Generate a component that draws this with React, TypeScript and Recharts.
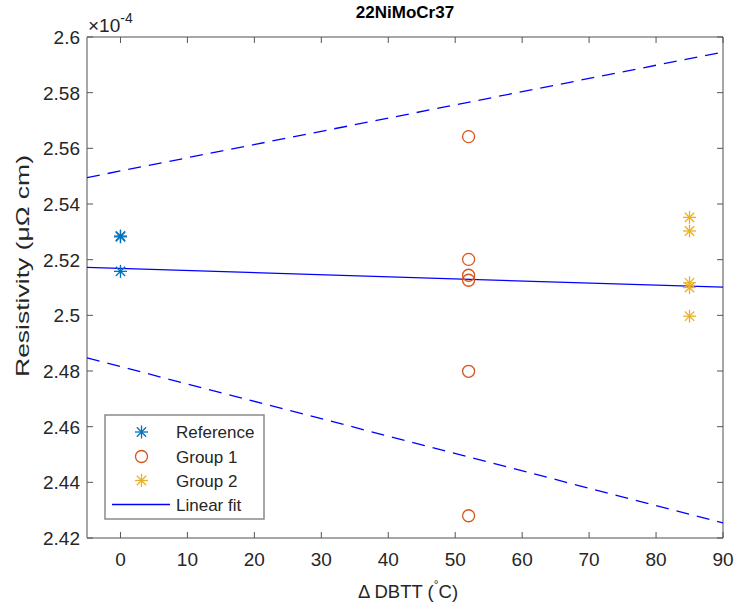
import React from 'react';
import { ComposedChart, Scatter, XAxis, YAxis } from 'recharts';

// ---- data (resistivity in units of 1e-4 µΩ cm) ----
const refDbtt = [0, 0, 0];
const refRes = [2.5285, 2.5282, 2.5158];
const group1Dbtt = [52, 52, 52, 52, 52, 52];
const group1Res = [2.5642, 2.5201, 2.5144, 2.5126, 2.4799, 2.428];
const group2Dbtt = [85, 85, 85, 85, 85];
const group2Res = [2.5352, 2.5303, 2.5117, 2.51, 2.4997];
const fitDbtt = [-5, 90];
const fitRes = [2.5172, 2.5101];
const upperRes = [2.5495, 2.5946];
const lowerRes = [2.4847, 2.4254];

const xTicks = [0, 10, 20, 30, 40, 50, 60, 70, 80, 90];
const yTicks = [2.42, 2.44, 2.46, 2.48, 2.5, 2.52, 2.54, 2.56, 2.58, 2.6];
const legendLabels = ['Reference', 'Group 1', 'Group 2', 'Linear fit'];
const titleText = '22NiMoCr37';

const zip = (xs: number[], ys: number[]) => xs.map((x, i) => ({ x, y: ys[i] }));
const refData = zip(refDbtt, refRes);
const g1Data = zip(group1Dbtt, group1Res);
const g2Data = zip(group2Dbtt, group2Res);
const fitData = zip(fitDbtt, fitRes);
const upperData = zip(fitDbtt, upperRes);
const lowerData = zip(fitDbtt, lowerRes);

const FONT = "'Liberation Sans', Arial, Helvetica, sans-serif";
const TXT = '#262626';
const AX = '#8a8a8a';
const TICK = '#555555';
const C_REF = '#0072BD';
const C_G1 = '#D95319';
const C_G2 = '#EDB120';
const C_FIT = '#0000FF';

const W = 737;
const H = 612;
const M = { top: 36, right: 13, bottom: 73, left: 86 };

const starPath = (cx: number, cy: number, r: number) => {
  const d = r * 0.72;
  return (
    <>
      <line x1={cx - r} y1={cy} x2={cx + r} y2={cy} />
      <line x1={cx} y1={cy - r} x2={cx} y2={cy + r} />
      <line x1={cx - d} y1={cy - d} x2={cx + d} y2={cy + d} />
      <line x1={cx - d} y1={cy + d} x2={cx + d} y2={cy - d} />
    </>
  );
};

const makeStar = (color: string) => (props: any) => {
  const { cx, cy } = props;
  if (cx == null || cy == null) return <g />;
  return (
    <g stroke={color} strokeWidth={1.3} fill="none">
      {starPath(cx, cy, 6.5)}
    </g>
  );
};

const Circle = (props: any) => {
  const { cx, cy } = props;
  if (cx == null || cy == null) return <g />;
  return <circle cx={cx} cy={cy} r={6} fill="none" stroke={C_G1} strokeWidth={1.3} />;
};

const Empty = () => <g />;

const fmt = (v: number) => String(+Number(v).toFixed(2));

const BottomTick = (props: any) => {
  const { x, y, payload } = props;
  return (
    <g>
      <line x1={x} y1={y} x2={x} y2={y - 6} stroke={TICK} strokeWidth={1} />
      <text x={x} y={y + 28} textAnchor="middle" fill={TXT} fontSize={19} fontFamily={FONT}>
        {fmt(payload.value)}
      </text>
    </g>
  );
};

const TopTick = (props: any) => {
  const { x, y } = props;
  return <line x1={x} y1={y} x2={x} y2={y + 6} stroke={TICK} strokeWidth={1} />;
};

const LeftTick = (props: any) => {
  const { x, y, payload } = props;
  return (
    <g>
      <line x1={x} y1={y} x2={x + 6} y2={y} stroke={TICK} strokeWidth={1} />
      <text x={x - 7} y={y} dy="0.36em" textAnchor="end" fill={TXT} fontSize={19} fontFamily={FONT}>
        {fmt(payload.value)}
      </text>
    </g>
  );
};

const RightTick = (props: any) => {
  const { x, y } = props;
  return <line x1={x} y1={y} x2={x - 6} y2={y} stroke={TICK} strokeWidth={1} />;
};

export default function App() {
  const plotL = 87;
  const plotR = 723;
  const cxPlot = (plotL + plotR) / 2;
  const yLabelCy = 266;

  const legendRows = [432, 456.5, 480.5, 504.5];

  return (
    <div style={{ position: 'absolute', left: 0, top: 0, width: W, height: H, background: '#fff' }}>
      <ComposedChart width={W} height={H} margin={M}>
        <XAxis
          xAxisId="b"
          dataKey="x"
          type="number"
          domain={[-5, 90]}
          ticks={xTicks}
          allowDataOverflow
          height={1}
          tickSize={0}
          tickMargin={0}
          tickLine={false}
          tick={<BottomTick />}
          axisLine={{ stroke: AX, strokeWidth: 1.5 }}
          interval={0}
        />
        <XAxis
          xAxisId="t"
          orientation="top"
          dataKey="x"
          type="number"
          domain={[-5, 90]}
          ticks={xTicks}
          allowDataOverflow
          height={1}
          tickSize={0}
          tickMargin={0}
          tickLine={false}
          tick={<TopTick />}
          axisLine={{ stroke: AX, strokeWidth: 1.5 }}
          interval={0}
        />
        <YAxis
          yAxisId="l"
          dataKey="y"
          type="number"
          domain={[2.42, 2.6]}
          ticks={yTicks}
          allowDataOverflow
          width={1}
          tickSize={0}
          tickMargin={0}
          tickLine={false}
          tick={<LeftTick />}
          axisLine={{ stroke: AX, strokeWidth: 1.5 }}
          interval={0}
        />
        <YAxis
          yAxisId="r"
          orientation="right"
          dataKey="y"
          type="number"
          domain={[2.42, 2.6]}
          ticks={yTicks}
          allowDataOverflow
          width={1}
          tickSize={0}
          tickMargin={0}
          tickLine={false}
          tick={<RightTick />}
          axisLine={{ stroke: AX, strokeWidth: 1.5 }}
          interval={0}
        />
        <Scatter
          xAxisId="b"
          yAxisId="l"
          name="upper"
          data={upperData}
          shape={Empty}
          line={{ stroke: C_FIT, strokeWidth: 1.3, strokeDasharray: '13 8' }}
          isAnimationActive={false}
        />
        <Scatter
          xAxisId="b"
          yAxisId="l"
          name="lower"
          data={lowerData}
          shape={Empty}
          line={{ stroke: C_FIT, strokeWidth: 1.3, strokeDasharray: '13 8' }}
          isAnimationActive={false}
        />
        <Scatter
          xAxisId="b"
          yAxisId="l"
          name="Linear fit"
          data={fitData}
          shape={Empty}
          line={{ stroke: C_FIT, strokeWidth: 1.3 }}
          isAnimationActive={false}
        />
        <Scatter xAxisId="b" yAxisId="l" name="Reference" data={refData} shape={makeStar(C_REF)} isAnimationActive={false} />
        <Scatter xAxisId="b" yAxisId="l" name="Group 1" data={g1Data} shape={Circle} isAnimationActive={false} />
        <Scatter xAxisId="b" yAxisId="l" name="Group 2" data={g2Data} shape={makeStar(C_G2)} isAnimationActive={false} />
      </ComposedChart>

      <svg
        width={W}
        height={H}
        style={{ position: 'absolute', left: 0, top: 0, pointerEvents: 'none' }}
        fontFamily={FONT}
      >
        <text x={cxPlot} y={18} textAnchor="middle" fontWeight="bold" fontSize={17} fill="#000">
          {titleText}
        </text>
        <text x={plotL + 1} y={32} fontSize={19} fill={TXT}>
          ×10
          <tspan dy={-9} fontSize={14}>-4</tspan>
        </text>
        <text x={cxPlot + 3} y={598} textAnchor="middle" fontSize={18.5} fill={TXT}>
          Δ DBTT (
          <tspan dy={-9} fontSize={12}>°</tspan>
          <tspan dy={9}>C)</tspan>
        </text>
        <text
          x={22}
          y={yLabelCy}
          transform={`rotate(-90 22 ${yLabelCy})`}
          textAnchor="middle"
          dy="0.36em"
          fontSize={18.5}
          fill={TXT}
          textLength={222}
          lengthAdjust="spacingAndGlyphs"
        >
          Resistivity (μΩ cm)
        </text>

        <rect x={105} y={415} width={159} height={104} fill="#fff" stroke={AX} strokeWidth={1.5} />
        <g stroke={C_REF} strokeWidth={1.3}>{starPath(141.5, legendRows[0], 6.5)}</g>
        <circle cx={141.5} cy={legendRows[1]} r={6} fill="none" stroke={C_G1} strokeWidth={1.3} />
        <g stroke={C_G2} strokeWidth={1.3}>{starPath(141.5, legendRows[2], 6.5)}</g>
        <line x1={112} y1={legendRows[3]} x2={170} y2={legendRows[3]} stroke={C_FIT} strokeWidth={1.3} />
        {legendLabels.map((l, i) => (
          <text key={l} x={176} y={legendRows[i]} dy="0.36em" fontSize={17} fill={TXT}>
            {l}
          </text>
        ))}
      </svg>
    </div>
  );
}
